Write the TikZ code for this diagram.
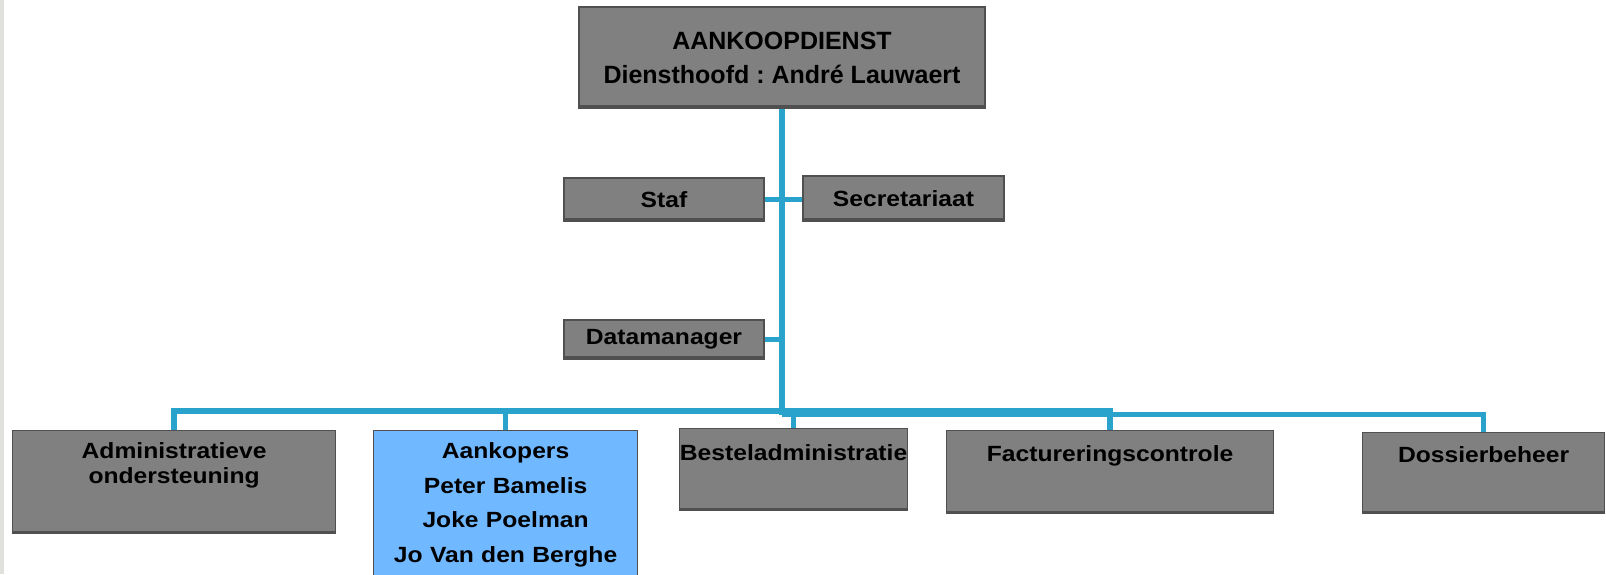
\documentclass[tikz,border=0pt]{standalone}
\usepackage{fontspec}
\setmainfont{Liberation Sans}
\newfontfamily\widefont{Liberation Sans}[FakeStretch=1.12]
\definecolor{boxgray}{RGB}{128,128,128}
\definecolor{boxedge}{RGB}{80,80,80}
\definecolor{aankblue}{RGB}{112,184,255}
\definecolor{linkblue}{RGB}{41,163,204}
\definecolor{stripgray}{RGB}{224,224,220}
\frenchspacing
\begin{document}
\begin{tikzpicture}[x=0.5pt,y=-0.5pt,
  box/.style={rectangle, fill=boxgray, draw=boxedge, line width=0.6pt, inner sep=0pt, align=center,
    font=\widefont\bfseries\fontsize{11}{12.5}\selectfont,
    path picture={\fill[boxedge] ([yshift=1.4pt]path picture bounding box.south west) rectangle (path picture bounding box.south east);}},
  conn/.style={draw=linkblue, line width=3pt},
  bus/.style={draw=linkblue, line width=2.8pt}]
\useasboundingbox (0,0) rectangle (1606,574);
\clip (0,0) rectangle (1606,574);
\fill[stripgray] (0,0) rectangle (4,574);

\node[box, font=\bfseries\fontsize{12.5}{17}\selectfont, minimum width=203pt, minimum height=50.5pt] (top) at (782,57.5) {AANKOOPDIENST\\Diensthoofd : André Lauwaert};
\node[box, minimum width=100pt, minimum height=21.5pt] (staf) at (664,199.5) {Staf};
\node[box, minimum width=100.5pt, minimum height=22.5pt] (secr) at (903.5,198.5) {Secretariaat};
\node[box, minimum width=100pt, minimum height=19.5pt] (data) at (664,339.5) {Datamanager};

\node[box, anchor=north west, text width=161.5pt, text height=14pt, text depth=37.5pt] (adm) at (12,430) {Administratieve\\ondersteuning};
\node[box, fill=aankblue, anchor=north west, text width=132pt, text height=14pt, text depth=61pt, font=\widefont\bfseries\fontsize{11}{17.3}\selectfont] (aank) at (373,430) {Aankopers\\Peter Bamelis\\Joke Poelman\\Jo Van den Berghe};
\node[box, anchor=north west, text width=114pt, text height=16pt, text depth=25pt] (best) at (679,428) {Besteladministratie};
\node[box, anchor=north west, text width=163.5pt, text height=15.5pt, text depth=26pt] (fact) at (946,430) {Factureringscontrole};
\node[box, anchor=north west, text width=121pt, text height=15pt, text depth=25.5pt] (doss) at (1362,432) {Dossierbeheer};

\coordinate (j) at (782,411);
\coordinate (j2) at (782,414.5);
\draw[conn] (top.south) -- (j2);
\draw[bus] (staf.east) -- (staf.east -| secr.west);
\draw[bus] (data.east) -- (data.east -| top.south);
\draw[bus] (adm.north) |- (j) -| (fact.north);
\draw[bus] (aank.north) -- (aank.north |- j);
\draw[bus] (j2) -| (doss.north);
\draw[bus] (best.north) -- (best.north |- j2);
\end{tikzpicture}
\end{document}
